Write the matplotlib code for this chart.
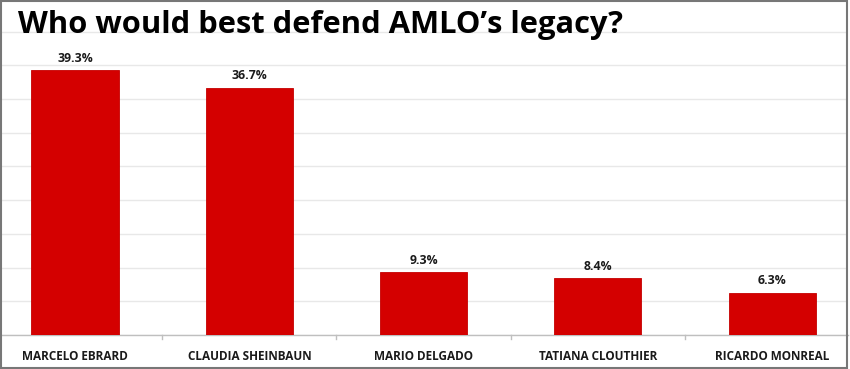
import matplotlib.pyplot as plt
from matplotlib.patches import Rectangle

# данные
candidates = ['MARCELO EBRARD', 'CLAUDIA SHEINBAUN', 'MARIO DELGADO',
              'TATIANA CLOUTHIER', 'RICARDO MONREAL']
shares = [39.3, 36.7, 9.3, 8.4, 6.3]
title = 'Who would best defend AMLO\u2019s legacy?'

bar_color = '#d40000'
text_color = '#1a1a1a'

fig = plt.figure(figsize=(8.5, 3.69), dpi=100)
ax = fig.add_axes([2 / 850, 34 / 369, 846 / 850, 333 / 369])

x = range(len(candidates))
ax.bar(x, shares, width=0.5, color=bar_color, edgecolor='#c40000',
       linewidth=0.6, zorder=3)

for i, v in enumerate(shares):
    ax.annotate(f'{v}%', xy=(i, v), xytext=(0, 4), textcoords='offset points',
                ha='center', va='bottom', fontsize=8.8, fontweight='bold',
                family='Open Sans', color=text_color)

ax.set_xlim(-0.419, 4.435)
ax.set_ylim(0, 49.4)
ax.set_yticks(range(0, 50, 5))
ax.yaxis.grid(True, color='#e8e8e8', linewidth=1, zorder=0)
ax.tick_params(axis='y', left=False, labelleft=False)

# подписи категорий
ax.set_xticks(list(x))
ax.set_xticklabels(candidates, fontsize=8.5, fontweight='bold',
                   family='Open Sans', color=text_color)
ax.tick_params(axis='x', length=0, pad=11)
# деления между категориями
for b in [0.5, 1.5, 2.5, 3.5]:
    ax.plot([b, b], [0, -0.6], color='#bfbfbf', linewidth=1,
            clip_on=False, zorder=2)

for s in ['top', 'right', 'left']:
    ax.spines[s].set_visible(False)
ax.spines['bottom'].set_color('#bfbfbf')
ax.spines['bottom'].set_linewidth(1)

fig.text(18 / 850, 1 - 25 / 369, title, fontsize=22.2, fontweight='bold',
         family='Open Sans', color='black', va='center', ha='left')

# рамка картинки
fig.patches.append(Rectangle((0.001, 0.002), 0.996, 0.995, transform=fig.transFigure,
                             fill=False, edgecolor='#777777', linewidth=1.5))

fig.savefig('out.png', dpi=100)
